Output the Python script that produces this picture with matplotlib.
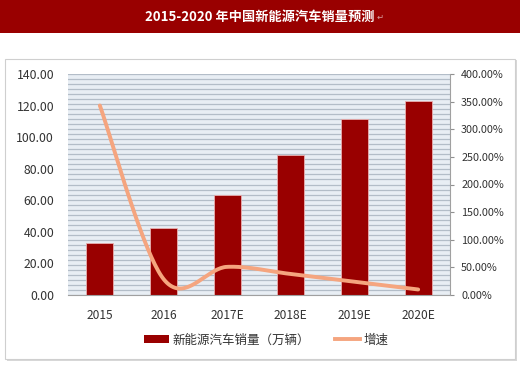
import numpy as np
import matplotlib
matplotlib.use("Agg")
import matplotlib.pyplot as plt
from matplotlib.patches import Rectangle
from matplotlib.lines import Line2D
from matplotlib.ticker import FuncFormatter, MultipleLocator

plt.rcParams['font.family'] = ['Noto Sans CJK SC', 'DejaVu Sans']

categories = ['2015', '2016', '2017E', '2018E', '2019E', '2020E']
sales = [32.8, 42.6, 63.3, 88.7, 111.3, 123.0]          # 万辆
growth = [343.0, 29.0, 51.0, 38.0, 24.0, 10.0]          # %
title = '2015-2020 年中国新能源汽车销量预测'
bar_label = '新能源汽车销量（万辆）'
line_label = '增速'

bar_color = '#990000'
line_color = '#F5A57F'

fig = plt.figure(figsize=(5.2, 3.66), dpi=100)
fig.patch.set_facecolor('white')

# title banner
fig.add_artist(Rectangle((0, 0.91), 1, 0.09, transform=fig.transFigure,
                         facecolor='#990000', edgecolor='none', zorder=0))
fig.text(0.5, 0.955, title, color='white', fontsize=9.5, fontweight='bold',
         ha='center', va='center')
fig.text(0.724, 0.952, '↵', color='#d9a0a0', fontsize=6, ha='left', va='center',
         family=['DejaVu Sans'])

# chart frame
fig.add_artist(Rectangle((7 / 520, 1 - 361 / 366), 510 / 520, 301 / 366,
                         transform=fig.transFigure, facecolor='#d8d8d8',
                         edgecolor='none', zorder=0))
fig.add_artist(Rectangle((5 / 520, 1 - 359 / 366), 510 / 520, 300 / 366,
                         transform=fig.transFigure, facecolor='white',
                         edgecolor='#cfcfcf', linewidth=0.8, zorder=0))

ax = fig.add_axes([68 / 520, 1 - 295 / 366, 382 / 520, 221 / 366])
ax.set_facecolor('#E8EEF4')
x = np.arange(len(categories))

# striped background grid
for yv in np.linspace(0, 140, 45):
    ax.axhline(yv, color='#B3BDC8', linewidth=0.9, zorder=0.5)

ax.bar(x, sales, width=0.42, color=bar_color, edgecolor='#E8B0B0',
       linewidth=0.6, zorder=2)
ax.set_xlim(-0.5, len(categories) - 0.5)
ax.set_ylim(0, 140)
ax.yaxis.set_major_locator(MultipleLocator(20))
ax.yaxis.set_major_formatter(FuncFormatter(lambda v, p: f'{v:.2f}'))
ax.set_xticks(x)
ax.set_xticklabels(categories)
ax.tick_params(axis='y', length=0, pad=10, labelsize=8.8, labelcolor='#333333')
ax.tick_params(axis='x', length=0, pad=10, labelsize=8.6, labelcolor='#333333')
for s in ['top', 'left', 'right']:
    ax.spines[s].set_visible(False)
ax.spines['bottom'].set_color('#A0A0A0')

ax2 = ax.twinx()
ax2.set_ylim(0, 400)
ax2.yaxis.set_major_locator(MultipleLocator(50))
ax2.yaxis.set_major_formatter(FuncFormatter(lambda v, p: f'{v:.2f}%'))
ax2.tick_params(axis='y', length=3, width=0.8, color='#909090', pad=5,
                labelsize=7.8, labelcolor='#333333')
for s in ['top', 'left', 'bottom']:
    ax2.spines[s].set_visible(False)
ax2.spines['right'].set_color('#A0A0A0')

# smoothed line (Catmull-Rom / Bezier, affine invariant)
px = np.array(x, dtype=float)
py = np.array(growth, dtype=float)
P = np.column_stack([px, py])
Pext = np.vstack([P[0], P, P[-1]])
curve = []
for i in range(len(P) - 1):
    p0, p1, p2, p3 = Pext[i], Pext[i + 1], Pext[i + 2], Pext[i + 3]
    c1 = p1 + (p2 - p0) / 6
    c2 = p2 - (p3 - p1) / 6
    t = np.linspace(0, 1, 40)[:, None]
    seg = ((1 - t) ** 3) * p1 + 3 * ((1 - t) ** 2) * t * c1 + 3 * (1 - t) * t ** 2 * c2 + t ** 3 * p2
    curve.append(seg if i == 0 else seg[1:])
curve = np.vstack(curve)
ax2.plot(curve[:, 0], curve[:, 1], color=line_color, linewidth=2.8,
         solid_capstyle='round', zorder=3)

handles = [Rectangle((0, 0), 1, 1, facecolor=bar_color, edgecolor='none'),
           Line2D([0], [0], color=line_color, linewidth=2.8)]
fig.legend(handles, [bar_label, line_label], loc='center',
           bbox_to_anchor=(0.512, 1 - 340 / 366), ncol=2, frameon=False,
           fontsize=9, handlelength=2.0, handleheight=0.6, columnspacing=2.0,
           handletextpad=0.3, labelcolor='#333333')

fig.savefig('out.png', dpi=100)
